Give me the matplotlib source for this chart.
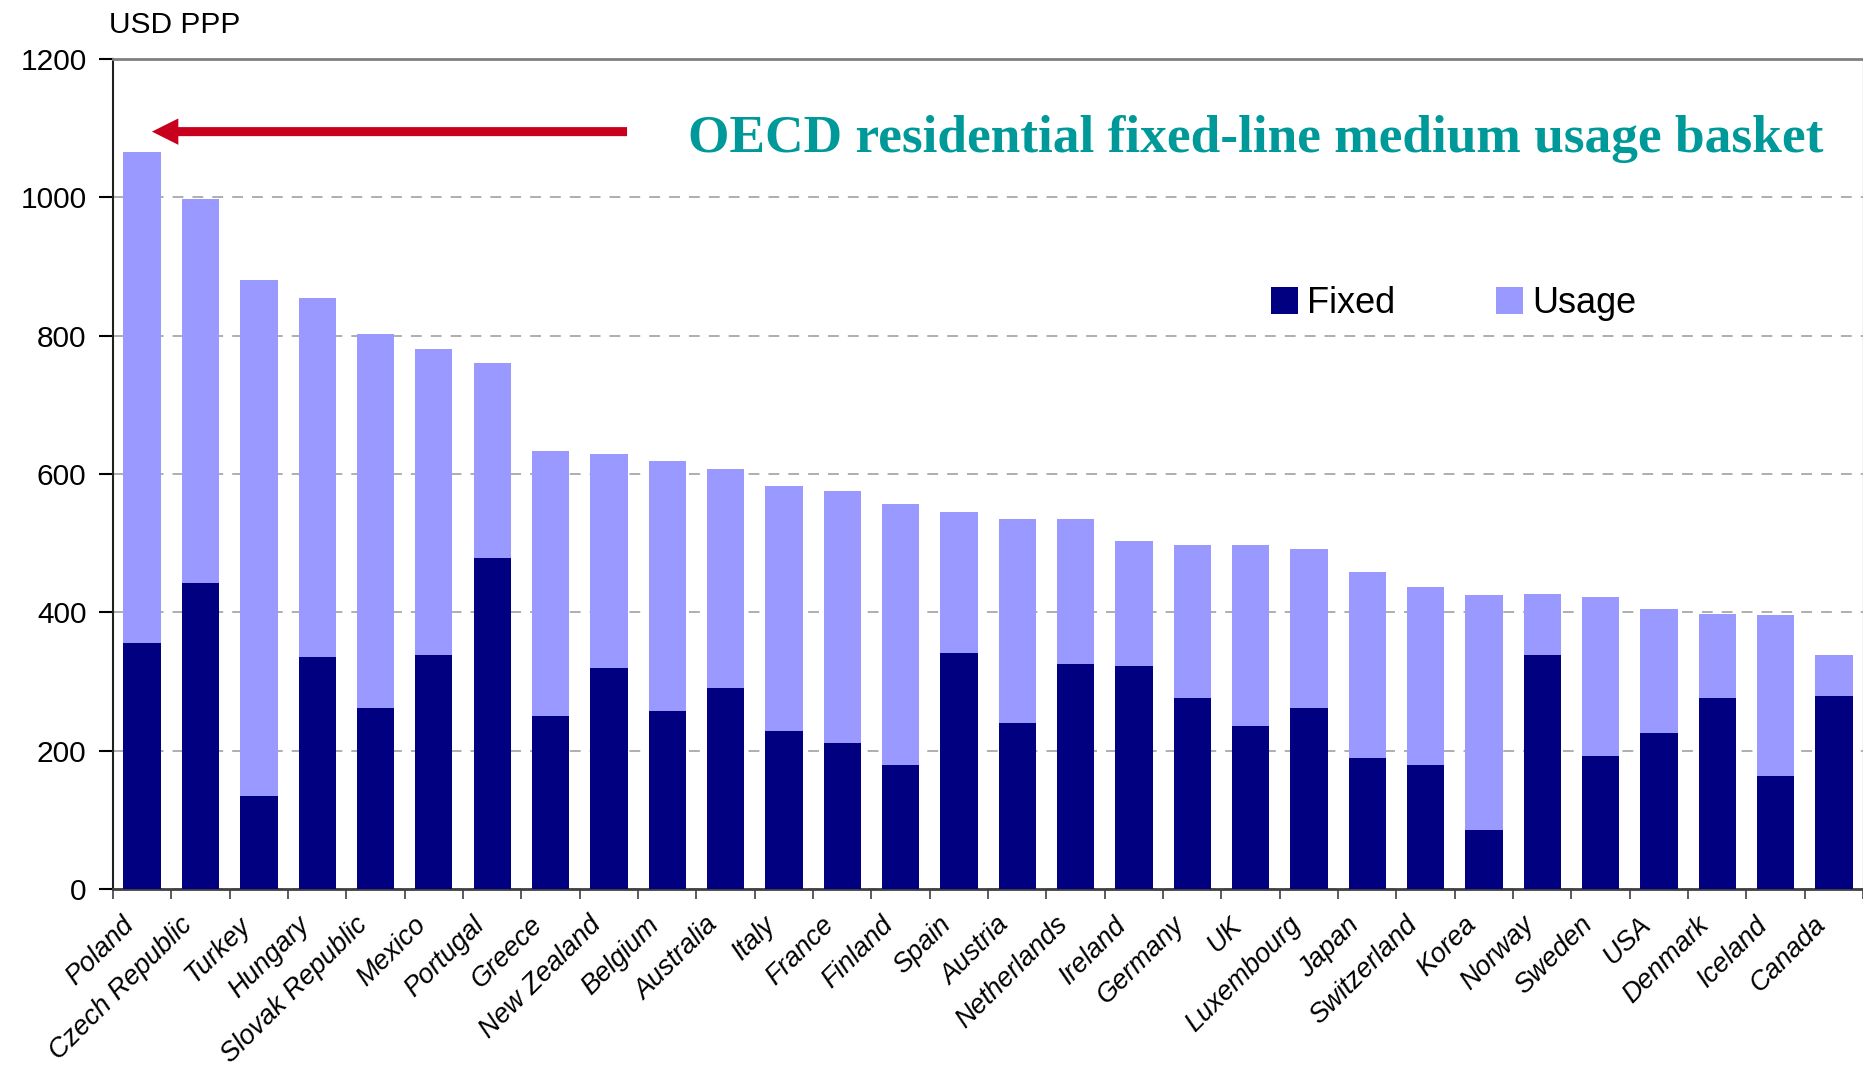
import numpy as np
import matplotlib
matplotlib.use("Agg")
import matplotlib.pyplot as plt
from matplotlib.patches import FancyArrowPatch

plt.rcParams["font.family"] = ["Liberation Sans", "DejaVu Sans"]

countries = [
    "Poland", "Czech Republic", "Turkey", "Hungary", "Slovak Republic", "Mexico",
    "Portugal", "Greece", "New Zealand", "Belgium", "Australia", "Italy", "France",
    "Finland", "Spain", "Austria", "Netherlands", "Ireland", "Germany", "UK",
    "Luxembourg", "Japan", "Switzerland", "Korea", "Norway", "Sweden", "USA",
    "Denmark", "Iceland", "Canada",
]
# basket totals (USD PPP) and the fixed-charge part of each
total = [1065, 997, 880, 854, 803, 781, 760, 633, 629, 619, 607, 582, 575,
         556, 545, 535, 535, 503, 498, 498, 491, 458, 436, 425, 426, 422, 405,
         397, 396, 338]
fixed = [355, 443, 134, 336, 261, 338, 479, 250, 319, 257, 290, 228, 211,
         180, 341, 240, 326, 323, 276, 235, 262, 189, 180, 86, 338, 192, 225,
         276, 163, 279]
usage = [t - f for t, f in zip(total, fixed)]

FIXED_COL = "#000080"
USAGE_COL = "#9999FF"

fig = plt.figure(figsize=(18.63, 10.66), dpi=100)
ax = fig.add_axes([113 / 1863, 177 / 1066, 1750 / 1863, 830 / 1066])

x = np.arange(len(countries))
b1 = ax.bar(x, fixed, width=0.64, color=FIXED_COL, label="Fixed", zorder=3)
b2 = ax.bar(x, usage, width=0.64, bottom=fixed, color=USAGE_COL, label="Usage", zorder=3)

ax.set_xlim(-0.5, len(countries) - 0.5)
ax.set_ylim(0, 1200)
ax.set_yticks(np.arange(0, 1201, 200))

# tick marks between categories; names hang from just left of each bar centre
ax.set_xticks(np.arange(-0.5, len(countries), 1))
ax.set_xticklabels([])
ax.set_xticks(x - 0.2, minor=True)
ax.set_xticklabels(countries, minor=True, rotation=45, ha="right", va="center",
                   rotation_mode="anchor", fontsize=19.5, fontstyle="italic")
ax.tick_params(axis="x", which="major", direction="out", length=7, width=1.2, color="#404040")
ax.tick_params(axis="x", which="minor", length=0, pad=23)
ax.tick_params(axis="y", direction="out", length=10, width=1.5, pad=9, labelsize=21.5)

ax.yaxis.grid(True, linestyle=(0, (6, 5)), color="#A8A8A8", linewidth=1.3)
ax.set_axisbelow(True)

ax.spines["left"].set_color("#202020")
ax.spines["left"].set_linewidth(1.5)
ax.spines["bottom"].set_color("#404040")
ax.spines["bottom"].set_linewidth(2)
ax.spines["top"].set_color("#808080")
ax.spines["top"].set_linewidth(2)
ax.spines["right"].set_color("#C8C8C8")
ax.spines["right"].set_linewidth(1)

fig.text(109 / 1863, 1 - 33 / 1066, "USD PPP", fontsize=21.5, va="baseline", ha="left")

fig.text(1256 / 1863, 1 - 152 / 1066, "OECD residential fixed-line medium usage basket",
         family=["Liberation Serif"], fontweight="bold", fontsize=38.4, color="#009999",
         ha="center", va="baseline")

arrow = FancyArrowPatch((8.36, 1095), (0.12, 1095),
                        arrowstyle="simple,head_length=1.9,head_width=1.9,tail_width=0.65",
                        mutation_scale=10, color="#C8001E", linewidth=0, zorder=4)
ax.add_patch(arrow)

ax.legend(handles=[b1, b2], loc="upper left", bbox_to_anchor=(1271 / 1863, 1 - 286 / 1066),
          bbox_transform=fig.transFigure, ncol=2, frameon=False, fontsize=26,
          handlelength=0.75, handleheight=0.75, handletextpad=0.25, columnspacing=2.8,
          borderpad=0, borderaxespad=0)

fig.savefig("out.png", dpi=100)
